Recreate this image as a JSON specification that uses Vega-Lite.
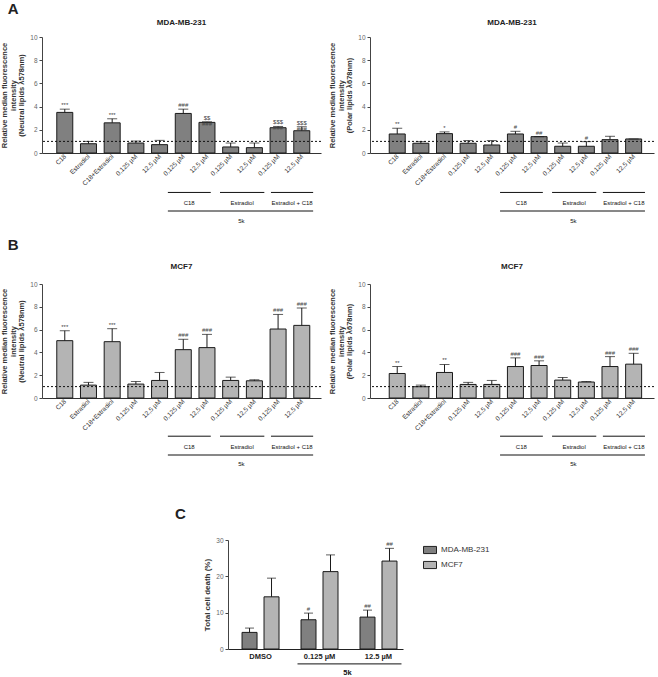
{
 "$schema": "https://vega.github.io/schema/vega-lite/v6.json",
 "padding": {"left": 0, "top": 2, "right": 2, "bottom": 0},
 "config": {
  "view": {"stroke": null},
  "font": "Liberation Sans",
  "axis": {"labelFont": "Liberation Sans", "titleFont": "Liberation Sans", "labelFontSize": 6.5, "labelColor": "#666", "titleFontSize": 7.5, "titleFontWeight": "bold", "titleColor": "#333", "domainColor": "#444", "tickColor": "#444", "grid": false, "tickSize": 3, "labelPadding": 2},
  "title": {"font": "Liberation Sans", "fontSize": 8, "fontWeight": "bold", "color": "#222"}
 },
 "resolve": {"scale": {"color": "independent"}, "legend": {"color": "independent"}},
 "datasets": {
  "aN": [
   {"i": 1, "label": "C18", "mean": 3.5, "upper": 3.78, "sig": "***"},
   {"i": 2, "label": "Estradiol", "mean": 0.8, "upper": 1.0, "sig": ""},
   {"i": 3, "label": "C18+Estradiol", "mean": 2.6, "upper": 2.95, "sig": "***"},
   {"i": 4, "label": "0,125 µM", "mean": 0.86, "upper": 1.03, "sig": ""},
   {"i": 5, "label": "12,5 µM", "mean": 0.72, "upper": 1.09, "sig": ""},
   {"i": 6, "label": "0,125 µM", "mean": 3.41, "upper": 3.78, "sig": "###"},
   {"i": 7, "label": "12,5 µM", "mean": 2.64, "upper": 2.69, "sig": "$$\n###"},
   {"i": 8, "label": "0,125 µM", "mean": 0.52, "upper": 0.86, "sig": ""},
   {"i": 9, "label": "12,5 µM", "mean": 0.46, "upper": 0.86, "sig": ""},
   {"i": 10, "label": "0,125 µM", "mean": 2.18, "upper": 2.29, "sig": "$$$\n###"},
   {"i": 11, "label": "12,5 µM", "mean": 1.92, "upper": 2.26, "sig": "$$$\n###"}
  ],
  "aP": [
   {"i": 1, "label": "C18", "mean": 1.64, "upper": 2.13, "sig": "**"},
   {"i": 2, "label": "Estradiol", "mean": 0.84, "upper": 0.98, "sig": ""},
   {"i": 3, "label": "C18+Estradiol", "mean": 1.67, "upper": 1.82, "sig": "*"},
   {"i": 4, "label": "0,125 µM", "mean": 0.84, "upper": 1.07, "sig": ""},
   {"i": 5, "label": "12,5 µM", "mean": 0.69, "upper": 1.07, "sig": ""},
   {"i": 6, "label": "0,125 µM", "mean": 1.64, "upper": 1.87, "sig": "#"},
   {"i": 7, "label": "12,5 µM", "mean": 1.41, "upper": 1.41, "sig": "##"},
   {"i": 8, "label": "0,125 µM", "mean": 0.58, "upper": 0.86, "sig": ""},
   {"i": 9, "label": "12,5 µM", "mean": 0.58, "upper": 0.98, "sig": "#"},
   {"i": 10, "label": "0,125 µM", "mean": 1.15, "upper": 1.44, "sig": ""},
   {"i": 11, "label": "12,5 µM", "mean": 1.21, "upper": 1.21, "sig": ""}
  ],
  "bN": [
   {"i": 1, "label": "C18", "mean": 5.03, "upper": 5.9, "sig": "***"},
   {"i": 2, "label": "Estradiol", "mean": 1.13, "upper": 1.37, "sig": ""},
   {"i": 3, "label": "C18+Estradiol", "mean": 4.94, "upper": 6.08, "sig": "***"},
   {"i": 4, "label": "0,125 µM", "mean": 1.22, "upper": 1.45, "sig": ""},
   {"i": 5, "label": "12,5 µM", "mean": 1.54, "upper": 2.24, "sig": ""},
   {"i": 6, "label": "0,125 µM", "mean": 4.24, "upper": 5.15, "sig": "###"},
   {"i": 7, "label": "12,5 µM", "mean": 4.42, "upper": 5.58, "sig": "###"},
   {"i": 8, "label": "0,125 µM", "mean": 1.54, "upper": 1.83, "sig": ""},
   {"i": 9, "label": "12,5 µM", "mean": 1.51, "upper": 1.6, "sig": ""},
   {"i": 10, "label": "0,125 µM", "mean": 6.05, "upper": 7.33, "sig": "###"},
   {"i": 11, "label": "12,5 µM", "mean": 6.37, "upper": 7.9, "sig": "###"}
  ],
  "bP": [
   {"i": 1, "label": "C18", "mean": 2.15, "upper": 2.76, "sig": "**"},
   {"i": 2, "label": "Estradiol", "mean": 0.99, "upper": 1.13, "sig": ""},
   {"i": 3, "label": "C18+Estradiol", "mean": 2.24, "upper": 2.94, "sig": "**"},
   {"i": 4, "label": "0,125 µM", "mean": 1.19, "upper": 1.37, "sig": ""},
   {"i": 5, "label": "12,5 µM", "mean": 1.19, "upper": 1.54, "sig": ""},
   {"i": 6, "label": "0,125 µM", "mean": 2.76, "upper": 3.52, "sig": "###"},
   {"i": 7, "label": "12,5 µM", "mean": 2.85, "upper": 3.26, "sig": "###"},
   {"i": 8, "label": "0,125 µM", "mean": 1.57, "upper": 1.8, "sig": ""},
   {"i": 9, "label": "12,5 µM", "mean": 1.4, "upper": 1.45, "sig": ""},
   {"i": 10, "label": "0,125 µM", "mean": 2.76, "upper": 3.63, "sig": "###"},
   {"i": 11, "label": "12,5 µM", "mean": 2.97, "upper": 3.92, "sig": "###"}
  ],
  "c": [
   {"treatment": "DMSO", "line": "MDA-MB-231", "mean": 4.57, "upper": 5.76, "sig": ""},
   {"treatment": "DMSO", "line": "MCF7", "mean": 14.36, "upper": 19.5, "sig": ""},
   {"treatment": "0.125 µM", "line": "MDA-MB-231", "mean": 8.05, "upper": 9.88, "sig": "#"},
   {"treatment": "0.125 µM", "line": "MCF7", "mean": 21.3, "upper": 25.9, "sig": ""},
   {"treatment": "12.5 µM", "line": "MDA-MB-231", "mean": 8.78, "upper": 10.7, "sig": "##"},
   {"treatment": "12.5 µM", "line": "MCF7", "mean": 24.2, "upper": 27.7, "sig": "##"}
  ],
  "groups": [
   {"group": "C18", "from": 5.35, "to": 7.16, "mid": 6.25},
   {"group": "Estradiol", "from": 7.55, "to": 9.42, "mid": 8.48},
   {"group": "Estradiol + C18", "from": 9.7, "to": 11.48, "mid": 10.59}
  ],
  "span": [
   {"group": "5k", "from": 5.35, "to": 11.48, "mid": 8.45}
  ],
  "one": [{}]
 },
 "vconcat": [
  {
   "spacing": 14,
   "resolve": {"scale": {"color": "independent"}, "legend": {"color": "independent"}},
   "vconcat": [
    {
     "title": {"text": "A", "anchor": "start", "fontSize": 15, "dx": 7, "offset": 2},
     "spacing": 6,
     "hconcat": [
      {
       "width": 279, "height": 116,
       "title": {"text": "MDA-MB-231", "offset": 7},
       "layer": [
        {"data": {"name": "aN"}, "mark": {"type": "bar", "orient": "vertical", "width": 16, "fill": "#808080", "stroke": "#1a1a1a", "strokeWidth": 1},
         "encoding": {
          "x": {"field": "i", "type": "quantitative", "scale": {"domain": [0.25, 11.6], "nice": false, "zero": false},
                "axis": {"values": [1,2,3,4,5,6,7,8,9,10,11], "tickCount": 11, "labelExpr": "['C18','Estradiol','C18+Estradiol','0,125 µM','12,5 µM','0,125 µM','12,5 µM','0,125 µM','12,5 µM','0,125 µM','12,5 µM'][datum.value-1]", "labelAngle": -45, "labelAlign": "right", "labelBaseline": "middle", "ticks": false, "title": null, "labelColor": "#333", "domainColor": "#333", "labelOverlap": false, "labelBound": false, "labelFlush": false}},
          "y": {"field": "mean", "type": "quantitative", "scale": {"domain": [0, 10], "nice": false},
                "axis": {"values": [0,2,4,6,8,10], "tickCount": 6, "labelOverlap": false, "title": ["Relative median fluorescence", "intensity", "(Neutral lipids λ578nm)"], "titleLineHeight": 8.5, "titlePadding": 4}}
         }},
        {"data": {"name": "aN"}, "mark": {"type": "rule", "color": "#1a1a1a"}, "encoding": {"x": {"field": "i", "type": "quantitative"}, "y": {"field": "mean", "type": "quantitative"}, "y2": {"field": "upper"}}},
        {"data": {"name": "aN"}, "mark": {"type": "tick", "orient": "horizontal", "size": 10, "thickness": 1, "color": "#1a1a1a"}, "encoding": {"x": {"field": "i", "type": "quantitative"}, "y": {"field": "upper", "type": "quantitative"}}},
        {"data": {"name": "aN"}, "mark": {"type": "text", "baseline": "bottom", "dy": -1, "fontSize": 6, "lineBreak": "\n", "lineHeight": 6, "color": "#444"}, "encoding": {"x": {"field": "i", "type": "quantitative"}, "y": {"field": "upper", "type": "quantitative"}, "text": {"field": "sig"}}},
        {"data": {"name": "one"}, "mark": {"type": "rule", "strokeDash": [2, 2], "color": "#111"}, "encoding": {"y": {"datum": 1}}},
        {"data": {"name": "groups"}, "mark": {"type": "rule", "color": "#111"}, "encoding": {"x": {"field": "from", "type": "quantitative"}, "x2": {"field": "to"}, "y": {"datum": -3.4}}},
        {"data": {"name": "groups"}, "mark": {"type": "text", "fontSize": 6, "color": "#111"}, "encoding": {"x": {"field": "mid", "type": "quantitative"}, "y": {"datum": -4.3}, "text": {"field": "group"}}},
        {"data": {"name": "span"}, "mark": {"type": "rule", "color": "#111"}, "encoding": {"x": {"field": "from", "type": "quantitative"}, "x2": {"field": "to"}, "y": {"datum": -5.0}}},
        {"data": {"name": "span"}, "mark": {"type": "text", "fontSize": 6, "color": "#111"}, "encoding": {"x": {"field": "mid", "type": "quantitative"}, "y": {"datum": -5.85}, "text": {"field": "group"}}}
       ]
      },
      {
       "width": 284, "height": 116,
       "title": {"text": "MDA-MB-231", "offset": 7},
       "layer": [
        {"data": {"name": "aP"}, "mark": {"type": "bar", "orient": "vertical", "width": 16, "fill": "#808080", "stroke": "#1a1a1a", "strokeWidth": 1},
         "encoding": {
          "x": {"field": "i", "type": "quantitative", "scale": {"domain": [0.06, 11.65], "nice": false, "zero": false},
                "axis": {"values": [1,2,3,4,5,6,7,8,9,10,11], "tickCount": 11, "labelExpr": "['C18','Estradiol','C18+Estradiol','0,125 µM','12,5 µM','0,125 µM','12,5 µM','0,125 µM','12,5 µM','0,125 µM','12,5 µM'][datum.value-1]", "labelAngle": -45, "labelAlign": "right", "labelBaseline": "middle", "ticks": false, "title": null, "labelColor": "#333", "domainColor": "#333", "labelOverlap": false, "labelBound": false, "labelFlush": false}},
          "y": {"field": "mean", "type": "quantitative", "scale": {"domain": [0, 10], "nice": false},
                "axis": {"values": [0,2,4,6,8,10], "tickCount": 6, "labelOverlap": false, "title": ["Relative median fluorescence", "intensity", "(Polar lipids λ678nm)"], "titleLineHeight": 8.5, "titlePadding": 4}}
         }},
        {"data": {"name": "aP"}, "mark": {"type": "rule", "color": "#1a1a1a"}, "encoding": {"x": {"field": "i", "type": "quantitative"}, "y": {"field": "mean", "type": "quantitative"}, "y2": {"field": "upper"}}},
        {"data": {"name": "aP"}, "mark": {"type": "tick", "orient": "horizontal", "size": 10, "thickness": 1, "color": "#1a1a1a"}, "encoding": {"x": {"field": "i", "type": "quantitative"}, "y": {"field": "upper", "type": "quantitative"}}},
        {"data": {"name": "aP"}, "mark": {"type": "text", "baseline": "bottom", "dy": -1, "fontSize": 6, "lineBreak": "\n", "lineHeight": 6, "color": "#444"}, "encoding": {"x": {"field": "i", "type": "quantitative"}, "y": {"field": "upper", "type": "quantitative"}, "text": {"field": "sig"}}},
        {"data": {"name": "one"}, "mark": {"type": "rule", "strokeDash": [2, 2], "color": "#111"}, "encoding": {"y": {"datum": 1}}},
        {"data": {"name": "groups"}, "mark": {"type": "rule", "color": "#111"}, "encoding": {"x": {"field": "from", "type": "quantitative"}, "x2": {"field": "to"}, "y": {"datum": -3.4}}},
        {"data": {"name": "groups"}, "mark": {"type": "text", "fontSize": 6, "color": "#111"}, "encoding": {"x": {"field": "mid", "type": "quantitative"}, "y": {"datum": -4.3}, "text": {"field": "group"}}},
        {"data": {"name": "span"}, "mark": {"type": "rule", "color": "#111"}, "encoding": {"x": {"field": "from", "type": "quantitative"}, "x2": {"field": "to"}, "y": {"datum": -5.0}}},
        {"data": {"name": "span"}, "mark": {"type": "text", "fontSize": 6, "color": "#111"}, "encoding": {"x": {"field": "mid", "type": "quantitative"}, "y": {"datum": -5.85}, "text": {"field": "group"}}}
       ]
      }
     ]
    },
    {
     "title": {"text": "B", "anchor": "start", "fontSize": 15, "dx": 7, "offset": 10},
     "spacing": 6,
     "hconcat": [
      {
       "width": 279, "height": 114,
       "title": {"text": "MCF7", "offset": 10},
       "layer": [
        {"data": {"name": "bN"}, "mark": {"type": "bar", "orient": "vertical", "width": 16, "fill": "#b4b4b4", "stroke": "#1a1a1a", "strokeWidth": 1},
         "encoding": {
          "x": {"field": "i", "type": "quantitative", "scale": {"domain": [0.25, 11.6], "nice": false, "zero": false},
                "axis": {"values": [1,2,3,4,5,6,7,8,9,10,11], "tickCount": 11, "labelExpr": "['C18','Estradiol','C18+Estradiol','0,125 µM','12,5 µM','0,125 µM','12,5 µM','0,125 µM','12,5 µM','0,125 µM','12,5 µM'][datum.value-1]", "labelAngle": -45, "labelAlign": "right", "labelBaseline": "middle", "ticks": false, "title": null, "labelColor": "#333", "domainColor": "#333", "labelOverlap": false, "labelBound": false, "labelFlush": false}},
          "y": {"field": "mean", "type": "quantitative", "scale": {"domain": [0, 10], "nice": false},
                "axis": {"values": [0,2,4,6,8,10], "tickCount": 6, "labelOverlap": false, "title": ["Relative median fluorescence", "intensity", "(Neutral lipids λ578nm)"], "titleLineHeight": 8.5, "titlePadding": 4}}
         }},
        {"data": {"name": "bN"}, "mark": {"type": "rule", "color": "#1a1a1a"}, "encoding": {"x": {"field": "i", "type": "quantitative"}, "y": {"field": "mean", "type": "quantitative"}, "y2": {"field": "upper"}}},
        {"data": {"name": "bN"}, "mark": {"type": "tick", "orient": "horizontal", "size": 10, "thickness": 1, "color": "#1a1a1a"}, "encoding": {"x": {"field": "i", "type": "quantitative"}, "y": {"field": "upper", "type": "quantitative"}}},
        {"data": {"name": "bN"}, "mark": {"type": "text", "baseline": "bottom", "dy": -1, "fontSize": 6, "lineBreak": "\n", "lineHeight": 6, "color": "#444"}, "encoding": {"x": {"field": "i", "type": "quantitative"}, "y": {"field": "upper", "type": "quantitative"}, "text": {"field": "sig"}}},
        {"data": {"name": "one"}, "mark": {"type": "rule", "strokeDash": [2, 2], "color": "#111"}, "encoding": {"y": {"datum": 1}}},
        {"data": {"name": "groups"}, "mark": {"type": "rule", "color": "#111"}, "encoding": {"x": {"field": "from", "type": "quantitative"}, "x2": {"field": "to"}, "y": {"datum": -3.35}}},
        {"data": {"name": "groups"}, "mark": {"type": "text", "fontSize": 6, "color": "#111"}, "encoding": {"x": {"field": "mid", "type": "quantitative"}, "y": {"datum": -4.3}, "text": {"field": "group"}}},
        {"data": {"name": "span"}, "mark": {"type": "rule", "color": "#111"}, "encoding": {"x": {"field": "from", "type": "quantitative"}, "x2": {"field": "to"}, "y": {"datum": -5.0}}},
        {"data": {"name": "span"}, "mark": {"type": "text", "fontSize": 6, "color": "#111"}, "encoding": {"x": {"field": "mid", "type": "quantitative"}, "y": {"datum": -5.75}, "text": {"field": "group"}}}
       ]
      },
      {
       "width": 284, "height": 114,
       "title": {"text": "MCF7", "offset": 10},
       "layer": [
        {"data": {"name": "bP"}, "mark": {"type": "bar", "orient": "vertical", "width": 16, "fill": "#b4b4b4", "stroke": "#1a1a1a", "strokeWidth": 1},
         "encoding": {
          "x": {"field": "i", "type": "quantitative", "scale": {"domain": [0.06, 11.65], "nice": false, "zero": false},
                "axis": {"values": [1,2,3,4,5,6,7,8,9,10,11], "tickCount": 11, "labelExpr": "['C18','Estradiol','C18+Estradiol','0,125 µM','12,5 µM','0,125 µM','12,5 µM','0,125 µM','12,5 µM','0,125 µM','12,5 µM'][datum.value-1]", "labelAngle": -45, "labelAlign": "right", "labelBaseline": "middle", "ticks": false, "title": null, "labelColor": "#333", "domainColor": "#333", "labelOverlap": false, "labelBound": false, "labelFlush": false}},
          "y": {"field": "mean", "type": "quantitative", "scale": {"domain": [0, 10], "nice": false},
                "axis": {"values": [0,2,4,6,8,10], "tickCount": 6, "labelOverlap": false, "title": ["Relative median fluorescence", "intensity", "(Polar lipids λ678nm)"], "titleLineHeight": 8.5, "titlePadding": 4}}
         }},
        {"data": {"name": "bP"}, "mark": {"type": "rule", "color": "#1a1a1a"}, "encoding": {"x": {"field": "i", "type": "quantitative"}, "y": {"field": "mean", "type": "quantitative"}, "y2": {"field": "upper"}}},
        {"data": {"name": "bP"}, "mark": {"type": "tick", "orient": "horizontal", "size": 10, "thickness": 1, "color": "#1a1a1a"}, "encoding": {"x": {"field": "i", "type": "quantitative"}, "y": {"field": "upper", "type": "quantitative"}}},
        {"data": {"name": "bP"}, "mark": {"type": "text", "baseline": "bottom", "dy": -1, "fontSize": 6, "lineBreak": "\n", "lineHeight": 6, "color": "#444"}, "encoding": {"x": {"field": "i", "type": "quantitative"}, "y": {"field": "upper", "type": "quantitative"}, "text": {"field": "sig"}}},
        {"data": {"name": "one"}, "mark": {"type": "rule", "strokeDash": [2, 2], "color": "#111"}, "encoding": {"y": {"datum": 1}}},
        {"data": {"name": "groups"}, "mark": {"type": "rule", "color": "#111"}, "encoding": {"x": {"field": "from", "type": "quantitative"}, "x2": {"field": "to"}, "y": {"datum": -3.35}}},
        {"data": {"name": "groups"}, "mark": {"type": "text", "fontSize": 6, "color": "#111"}, "encoding": {"x": {"field": "mid", "type": "quantitative"}, "y": {"datum": -4.3}, "text": {"field": "group"}}},
        {"data": {"name": "span"}, "mark": {"type": "rule", "color": "#111"}, "encoding": {"x": {"field": "from", "type": "quantitative"}, "x2": {"field": "to"}, "y": {"datum": -5.0}}},
        {"data": {"name": "span"}, "mark": {"type": "text", "fontSize": 6, "color": "#111"}, "encoding": {"x": {"field": "mid", "type": "quantitative"}, "y": {"datum": -5.75}, "text": {"field": "group"}}}
       ]
      }
     ]
    }
   ]
  },
  {
   "title": {"text": "C", "anchor": "start", "fontSize": 15, "dx": 133, "offset": 15},
   "spacing": 0,
   "resolve": {"scale": {"color": "independent"}, "legend": {"color": "independent"}},
   "hconcat": [
    {"width": 161, "height": 1, "data": {"values": []}, "mark": "point"},
    {
     "width": 175, "height": 109,
     "layer": [
      {"data": {"name": "c"}, "mark": {"type": "bar", "stroke": "#1a1a1a", "strokeWidth": 1},
       "encoding": {
        "x": {"field": "treatment", "type": "nominal", "sort": null, "scale": {"paddingInner": 0.373, "paddingOuter": 0.17, "align": 0.7},
              "axis": {"title": null, "labelAngle": 0, "ticks": false, "labelFontSize": 7.5, "labelFontWeight": "bold", "labelColor": "#222", "domainColor": "#222", "labelPadding": 3}},
        "xOffset": {"field": "line", "type": "nominal", "sort": null, "scale": {"paddingInner": 0.318, "paddingOuter": 0}},
        "y": {"field": "mean", "type": "quantitative", "stack": null, "scale": {"domain": [0, 30], "nice": false},
              "axis": {"values": [0, 10, 20, 30], "tickCount": 4, "labelOverlap": false, "title": "Total cell death (%)", "titleFontSize": 8, "titlePadding": 4}},
        "color": {"field": "line", "type": "nominal", "sort": null, "scale": {"domain": ["MDA-MB-231", "MCF7"], "range": ["#808080", "#b4b4b4"]},
                  "legend": {"title": null, "orient": "right", "offset": 17, "padding": 3, "symbolType": "M-1,-0.55H1V0.55H-1Z", "symbolSize": 169, "symbolStrokeColor": "#222", "symbolStrokeWidth": 1, "symbolOpacity": 1, "labelFontSize": 8, "labelColor": "#333", "rowPadding": 2}}
       }},
      {"data": {"name": "c"}, "mark": {"type": "rule", "color": "#1a1a1a"}, "encoding": {"x": {"field": "treatment", "type": "nominal", "sort": null}, "xOffset": {"field": "line", "type": "nominal", "sort": null}, "y": {"field": "mean", "type": "quantitative"}, "y2": {"field": "upper"}}},
      {"data": {"name": "c"}, "mark": {"type": "tick", "size": 9, "thickness": 1, "color": "#1a1a1a"}, "encoding": {"x": {"field": "treatment", "type": "nominal", "sort": null}, "xOffset": {"field": "line", "type": "nominal", "sort": null}, "y": {"field": "upper", "type": "quantitative"}}},
      {"data": {"name": "c"}, "mark": {"type": "text", "baseline": "bottom", "dy": -1, "fontSize": 6, "color": "#444"}, "encoding": {"x": {"field": "treatment", "type": "nominal", "sort": null}, "xOffset": {"field": "line", "type": "nominal", "sort": null}, "y": {"field": "upper", "type": "quantitative"}, "text": {"field": "sig"}}},
      {"data": {"name": "one"}, "mark": {"type": "rule", "color": "#111", "xOffset": -22, "x2Offset": 23}, "encoding": {"x": {"datum": "0.125 µM"}, "x2": {"datum": "12.5 µM"}, "y": {"datum": -4.1}}},
      {"data": {"name": "one"}, "mark": {"type": "text", "color": "#111", "fontSize": 7.5, "fontWeight": "bold", "dx": 28}, "encoding": {"x": {"datum": "0.125 µM"}, "y": {"datum": -6.6}, "text": {"value": "5k"}}}
     ]
    }
   ]
  }
 ],
 "spacing": 40
}
